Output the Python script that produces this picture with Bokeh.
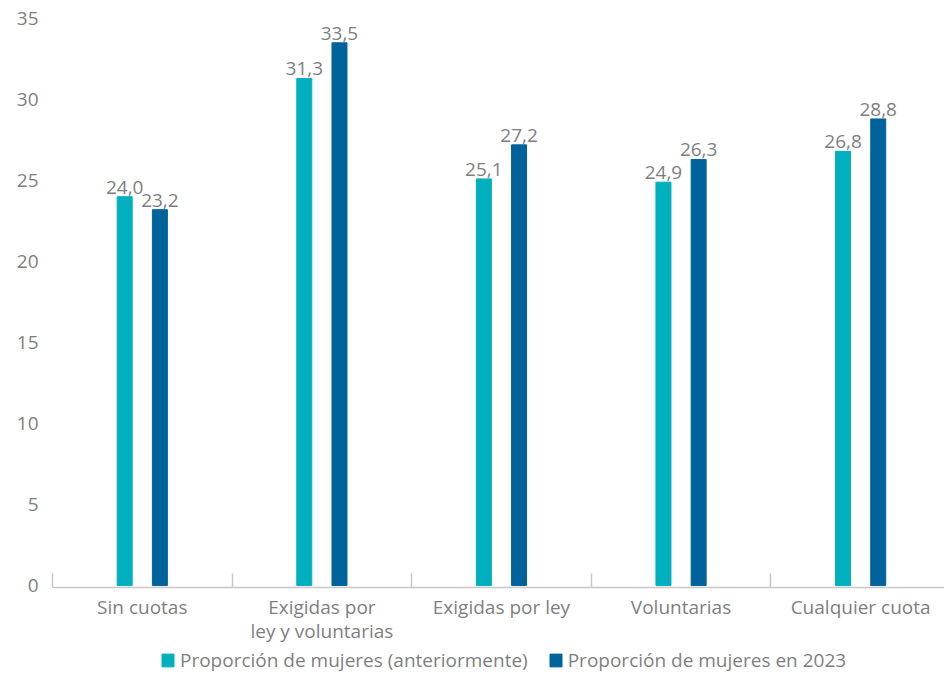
from bokeh.plotting import figure
from bokeh.layouts import column
from bokeh.models import (ColumnDataSource, FixedTicker, Range1d, LabelSet, Legend, LegendItem,
                          LinearAxis)
from bokeh.core.properties import value
from bokeh.transform import dodge
from bokeh.embed import file_html
from bokeh.resources import INLINE

categories = ["Sin cuotas", "Exigidas por\nley y voluntarias", "Exigidas por ley",
              "Voluntarias", "Cualquier cuota"]
anterior = [24.0, 31.3, 25.1, 24.9, 26.8]
en_2023 = [23.2, 33.5, 27.2, 26.3, 28.8]
series_names = ["Proporción de mujeres (anteriormente)", "Proporción de mujeres en 2023"]
y_ticks = [0, 5, 10, 15, 20, 25, 30, 35]

TEAL = "#00B0BE"
BLUE = "#00629B"
GRAY = "#7F7F7F"
FONT = "Open Sans"
FS = "19px"

centers = [i + 0.5 for i in range(len(categories))]
boundaries = list(range(len(categories) + 1))
first_lines = [c.split("\n")[0] for c in categories]
second_lines = {c: name.split("\n")[1] for c, name in zip(centers, categories) if "\n" in name}


def fmt(v):
    return f"{v:.1f}".replace(".", ",")


src = ColumnDataSource(dict(
    x=centers, a=anterior, b=en_2023,
    la=[fmt(v) for v in anterior], lb=[fmt(v) for v in en_2023],
))

p = figure(width=944, height=646, output_backend="svg", toolbar_location=None,
           x_range=Range1d(0, 4.967), y_range=Range1d(-0.12, 35),
           min_border_left=52, min_border_right=0, min_border_top=18, min_border_bottom=59)
p.outline_line_color = None
p.xgrid.visible = False
p.ygrid.visible = False
p.background_fill_color = "white"
p.border_fill_color = "white"

OFF = 0.098
W = 0.0835
r1 = p.vbar(x=dodge("x", -OFF, range=p.x_range), top="a", width=W, color=TEAL, source=src)
r2 = p.vbar(x=dodge("x", OFF, range=p.x_range), top="b", width=W, color=BLUE, source=src)

for col, ycol, off in (("la", "a", -OFF), ("lb", "b", OFF)):
    lbl = LabelSet(x=dodge("x", off, range=p.x_range), y=ycol, text=col,
                   source=src, text_align="center", text_baseline="alphabetic", y_offset=3,
                   text_font=value(FONT), text_font_size=value(FS), text_color=GRAY)
    p.add_layout(lbl)

# y axis
p.yaxis.ticker = FixedTicker(ticks=y_ticks)
p.yaxis.axis_line_color = None
p.yaxis.major_tick_line_color = None
p.yaxis.minor_tick_line_color = None
p.yaxis.major_tick_in = 0
p.yaxis.major_tick_out = 0
p.yaxis.major_label_standoff = 14
p.yaxis.major_label_text_font = FONT
p.yaxis.major_label_text_font_size = FS
p.yaxis.major_label_text_color = GRAY

# x axis (first line of category labels)
xa = p.xaxis[0]
xa.ticker = FixedTicker(ticks=centers, minor_ticks=boundaries)
xa.major_label_overrides = {c: name for c, name in zip(centers, first_lines)}
xa.major_tick_line_color = None
xa.major_tick_in = 0
xa.major_tick_out = 0
xa.minor_tick_in = 14
xa.minor_tick_out = 0
xa.minor_tick_line_color = "#C8C8C8"
xa.minor_tick_line_width = 1.5
xa.axis_line_color = "#C8C8C8"
xa.axis_line_width = 1.5
xa.major_label_standoff = 6
xa.major_label_text_font = FONT
xa.major_label_text_font_size = FS
xa.major_label_text_color = GRAY

# second line of wrapped category labels
xa2 = LinearAxis(ticker=FixedTicker(ticks=list(second_lines.keys()), minor_ticks=[]),
                 major_label_overrides=second_lines)
xa2.axis_line_color = None
xa2.major_tick_line_color = None
xa2.minor_tick_line_color = None
xa2.major_tick_in = 0
xa2.major_tick_out = 0
xa2.minor_tick_in = 0
xa2.minor_tick_out = 0
xa2.major_label_standoff = -5
xa2.major_label_text_font = FONT
xa2.major_label_text_font_size = FS
xa2.major_label_text_color = GRAY
p.add_layout(xa2, "below")

# legend strip (proxy glyphs lie outside the visible range; only their legend swatches show)
leg = figure(width=944, height=27, output_backend="svg", toolbar_location=None,
             x_range=Range1d(0, 1), y_range=Range1d(0, 1),
             x_axis_location=None, y_axis_location=None,
             min_border_left=0, min_border_right=0, min_border_top=0, min_border_bottom=0)
leg.outline_line_color = None
leg.xgrid.visible = False
leg.ygrid.visible = False
leg_src = ColumnDataSource(dict(x=[-5.0], top=[0.0]))
d1 = leg.vbar(x="x", top="top", width=0.1, color=TEAL, source=leg_src)
d2 = leg.vbar(x="x", top="top", width=0.1, color=BLUE, source=leg_src)
legend = Legend(items=[LegendItem(label=series_names[0], renderers=[d1], index=0),
                       LegendItem(label=series_names[1], renderers=[d2], index=0)],
                orientation="horizontal", location=(108, 0),
                glyph_width=15, glyph_height=16, label_height=16, label_standoff=5,
                spacing=20, padding=0, margin=0, border_line_color=None,
                background_fill_alpha=0, label_text_font=FONT, label_text_font_size=FS,
                label_text_color=GRAY)
leg.add_layout(legend, "center")

layout = column(p, leg, spacing=0)
open("out.html", "w").write(file_html(layout, INLINE))
